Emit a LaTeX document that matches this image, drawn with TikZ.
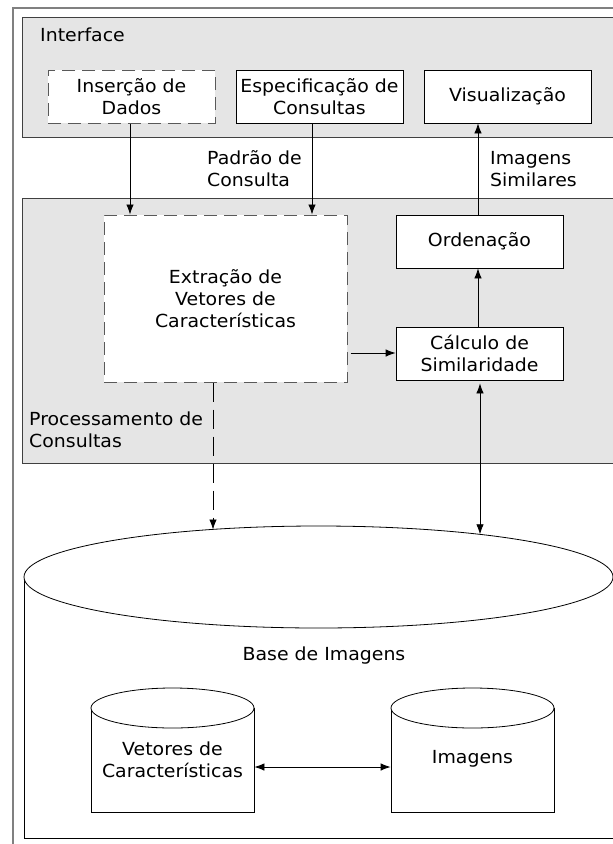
\documentclass[tikz,border=0pt]{standalone}
\usepackage{fontspec}
\setmainfont{DejaVu Sans}[FakeStretch=1.05]
\usetikzlibrary{arrows.meta,shapes.geometric}
\begin{document}
\begin{tikzpicture}[x=1pt,y=-1pt,
  every node/.style={font=\fontsize{18}{22}\selectfont},
  frame/.style={draw=black!75, fill=black!10, line width=0.8pt, anchor=north west, inner sep=0pt},
  box/.style={draw=black, fill=white, line width=0.8pt, minimum width=167pt, minimum height=53pt, align=center, inner sep=0pt},
  dbox/.style={draw=black!65, fill=white, dash pattern=on 13pt off 7pt, line width=1pt, align=center, inner sep=0pt},
  arr/.style={-{Latex[length=10pt,width=7.5pt]}, line width=0.8pt},
  darr/.style={{Latex[length=10pt,width=7.5pt]}-{Latex[length=10pt,width=7.5pt]}, line width=0.8pt},
  lbl/.style={align=left, anchor=west, inner sep=0pt},
  cylbody/.style={draw=black, line width=0.8pt, anchor=north, inner sep=0pt},
  cyltop/.style={draw=black, fill=white, ellipse, line width=0.8pt, inner sep=0pt}
]
\useasboundingbox (0,0) rectangle (613,844);
% outer frame
\draw[black!50, line width=1.6pt] (13,8) rectangle (640,870);
% group panels
\node[frame, minimum width=591pt, minimum height=120pt] (interface) at (22,17) {};
\node[lbl] (interfaceLbl) at (40,35) {Interface};
\node[frame, minimum width=591pt, minimum height=265pt] (proc) at (22,198) {};
\node[lbl] (procLbl) at (29,430) {Processamento de\\Consultas};
% interface boxes
\node[dbox, minimum width=167pt, minimum height=53pt] (insercao) at (131.5,96.5) {Inserção de\\Dados};
\node[box] (espec) at (319.5,96.5) {Especificação de\\Consultas};
\node[box] (visual) at (507.5,96.5) {Visualização};
% processing boxes
\node[dbox, minimum width=243pt, minimum height=167pt] (extr) at (225.5,298.5) {Extração de\\Vetores de\\Características};
\node[box, minimum width=167pt] (orden) at (479.5,241.5) {Ordenação};
\node[box, minimum width=167pt] (calc) at (479.5,353.5) {Cálculo de\\Similaridade};
% labels between panels
\node[lbl] (padrao) at (207,169) {Padrão de\\Consulta};
\node[lbl] (similares) at (490,169) {Imagens\\Similares};
% big database cylinder
\node[cylbody, minimum width=589pt, minimum height=261pt] (basebody) at (318.5,577) {};
\node[cyltop, minimum width=589pt, minimum height=102pt] (basetop) at (318.5,577) {};
\node (baseLbl) at (324,656) {Base de Imagens};
% small cylinders
\node[cylbody, minimum width=163pt, minimum height=104pt] (vetbody) at (172.5,708) {};
\node[cyltop, minimum width=163pt, minimum height=40pt] (vettop) at (172.5,708) {};
\node[align=center] (vetLbl) at (172.5,760) {Vetores de\\Características};
\node[cylbody, minimum width=163pt, minimum height=104pt] (imgbody) at (472.5,708) {};
\node[cyltop, minimum width=163pt, minimum height=40pt] (imgtop) at (472.5,708) {};
\node (imgLbl) at (472.5,759) {Imagens};
% coordinates on the big ellipse
\coordinate (dbA) at (213,529.5);
\coordinate (dbB) at (480,534.3);
% connectors
\draw[arr] (insercao.south -| 130,0) -- (extr.north -| 130,0);
\draw[arr] (espec.south -| 312,0) -- (extr.north -| 312,0);
\draw[arr] (orden.north -| 478,0) -- (visual.south -| 478,0);
\draw[arr] (calc.north -| 478,0) -- (orden.south -| 478,0);
\draw[arr] ([xshift=3pt]extr.east |- 0,353) -- (calc.west |- 0,353);
\draw[arr, dash pattern=on 19pt off 8pt] (extr.south -| dbA) -- (dbA);
\draw[darr] ([yshift=-3pt]calc.south -| dbB) -- (dbB);
\draw[darr] (vetbody.east |- 0,767) -- (imgbody.west |- 0,767);
\end{tikzpicture}
\end{document}
